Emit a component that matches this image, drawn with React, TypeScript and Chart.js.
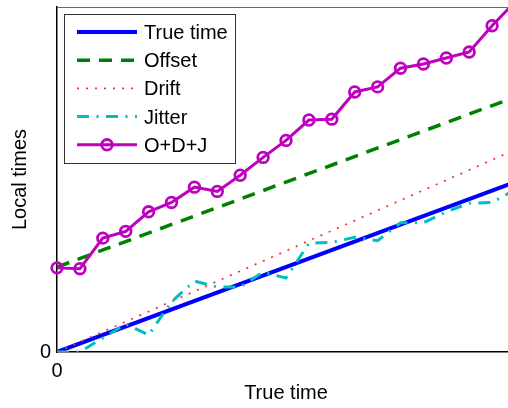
import React, { useEffect, useRef } from "react";
import { Chart, registerables } from "chart.js";

Chart.register(...registerables);

// ---- data ----
const sampleIndex = [0, 1, 2, 3, 4, 5, 6, 7, 8, 9, 10, 11, 12, 13, 14, 15, 16, 17, 18, 19, 20];
const lineEnds = [0, 20];
const trueTime = [0, 20];
const offsetTime = [10, 30];
const driftTime = [0, 23.8];
const jitterTime = [0, 0, 1.65, 3.3, 2.0, 5.9, 8.35, 7.65, 7.65, 9.4, 8.7, 12.8, 12.9, 13.5, 13.1, 15.2, 15.2, 16.5, 17.5, 17.6, 19.1];
const combinedTime = [9.9, 9.8, 13.4, 14.2, 16.5, 17.6, 19.4, 18.9, 20.8, 22.9, 24.9, 27.3, 27.4, 30.6, 31.2, 33.4, 33.9, 34.6, 35.3, 38.4, 41.2];
const seriesLabels = ["True time", "Offset", "Drift", "Jitter", "O+D+J"];
const xTitle = "True time";
const yTitle = "Local times";
const xTickValues = [0];
const yTickValues = [0];
const X_MAX = 20;
const Y_MAX = 40.6;

const FONT_FAMILY = '"Liberation Sans", Arial, sans-serif';
const FONT_SIZE = 20;

const toPoints = (xs: number[], ys: number[]) => xs.map((x, i) => ({ x, y: ys[i] }));

const framePlugin = {
  id: "frameAndLegend",
  afterDraw(chart: any) {
    const { ctx, chartArea } = chart;
    ctx.save();
    // top frame line
    ctx.strokeStyle = "#666";
    ctx.lineWidth = 1;
    ctx.beginPath();
    ctx.moveTo(chartArea.left, chartArea.top + 0.5);
    ctx.lineTo(chartArea.right, chartArea.top + 0.5);
    ctx.stroke();

    // legend
    const bx = chartArea.left + 7.5;
    const by = chartArea.top + 7.5;
    const bw = 171;
    const bh = 149;
    ctx.fillStyle = "#fff";
    ctx.fillRect(bx, by, bw, bh);
    ctx.strokeStyle = "#333";
    ctx.lineWidth = 1;
    ctx.strokeRect(bx, by, bw, bh);

    const datasets = chart.data.datasets;
    const sampleX0 = chartArea.left + 20;
    const sampleX1 = chartArea.left + 80;
    const textX = chartArea.left + 87;
    datasets.forEach((ds: any, i: number) => {
      const rowY = chartArea.top + 25 + i * 28.2;
      ctx.save();
      ctx.strokeStyle = ds.borderColor;
      ctx.lineWidth = ds.borderWidth;
      ctx.setLineDash(ds.borderDash || []);
      ctx.beginPath();
      ctx.moveTo(sampleX0, rowY);
      ctx.lineTo(sampleX1, rowY);
      ctx.stroke();
      ctx.setLineDash([]);
      if (ds.pointRadius && ds.pointRadius > 0) {
        ctx.lineWidth = ds.pointBorderWidth;
        ctx.strokeStyle = ds.pointBorderColor;
        ctx.beginPath();
        ctx.arc((sampleX0 + sampleX1) / 2, rowY, ds.pointRadius, 0, Math.PI * 2);
        ctx.stroke();
      }
      ctx.restore();
      ctx.fillStyle = "#000";
      ctx.font = `${FONT_SIZE}px ${FONT_FAMILY}`;
      ctx.textBaseline = "alphabetic";
      ctx.textAlign = "left";
      ctx.fillText(ds.label, textX, rowY + 7);
    });
    ctx.restore();
  },
};

export default function App() {
  const canvasRef = useRef<HTMLCanvasElement | null>(null);

  useEffect(() => {
    if (!canvasRef.current) return;
    const font = { family: FONT_FAMILY, size: FONT_SIZE };
    const chart = new Chart(canvasRef.current, {
      type: "line",
      data: {
        datasets: [
          {
            label: seriesLabels[0],
            data: toPoints(lineEnds, trueTime),
            borderColor: "#0000ff",
            borderWidth: 4,
            pointRadius: 0,
            order: 5,
          },
          {
            label: seriesLabels[1],
            data: toPoints(lineEnds, offsetTime),
            borderColor: "#008000",
            borderWidth: 3.5,
            borderDash: [13, 9],
            pointRadius: 0,
            order: 4,
          },
          {
            label: seriesLabels[2],
            data: toPoints(lineEnds, driftTime),
            borderColor: "#ff3030",
            borderWidth: 1.8,
            borderDash: [2, 7],
            pointRadius: 0,
            order: 3,
          },
          {
            label: seriesLabels[3],
            data: toPoints(sampleIndex, jitterTime),
            borderColor: "#00bfbf",
            borderWidth: 3,
            borderDash: [12, 7.5, 2, 7.5],
            pointRadius: 0,
            order: 2,
          },
          {
            label: seriesLabels[4],
            data: toPoints(sampleIndex, combinedTime),
            borderColor: "#bf00bf",
            borderWidth: 3,
            pointRadius: 5.3,
            pointBorderWidth: 2.8,
            pointBorderColor: "#bf00bf",
            pointBackgroundColor: "rgba(0,0,0,0)",
            clip: { left: 10, top: 0, right: 0, bottom: 10 },
            order: 1,
          },
        ] as any,
      },
      options: {
        responsive: false,
        animation: false,
        devicePixelRatio: 1,
        layout: { autoPadding: false, padding: { top: 7, left: 0, right: 0, bottom: 0 } },
        elements: { line: { tension: 0 } },
        plugins: {
          legend: { display: false },
          tooltip: { enabled: false },
        },
        scales: {
          x: {
            type: "linear",
            min: 0,
            max: X_MAX,
            grid: { display: false, drawTicks: false },
            border: { display: true, color: "#000", width: 1.5 },
            afterBuildTicks: (s: any) => {
              s.ticks = xTickValues.map((v) => ({ value: v }));
            },
            afterFit: (s: any) => {
              s.height = 56;
              s.paddingLeft = 0;
              s.paddingRight = 0;
              s.paddingTop = 0;
              s.paddingBottom = 0;
            },
            ticks: { color: "#000", font, padding: 7.6, maxRotation: 0, autoSkip: false },
            title: {
              display: true,
              text: xTitle,
              color: "#000",
              font,
              padding: { top: 0, bottom: 2.5 },
            },
          },
          y: {
            type: "linear",
            min: 0,
            max: Y_MAX,
            grid: { display: false, drawTicks: false },
            border: { display: true, color: "#000", width: 1.5 },
            afterBuildTicks: (s: any) => {
              s.ticks = yTickValues.map((v) => ({ value: v }));
            },
            afterFit: (s: any) => {
              s.width = 57;
              s.paddingLeft = 0;
              s.paddingRight = 0;
              s.paddingTop = 0;
              s.paddingBottom = 0;
            },
            ticks: { color: "#000", font, padding: 6, autoSkip: false },
            title: {
              display: true,
              text: yTitle,
              color: "#000",
              font,
              padding: { top: 8, bottom: 0 },
            },
          },
        },
      } as any,
      plugins: [framePlugin],
    });
    return () => chart.destroy();
  }, []);

  return (
    <div
      style={{
        position: "fixed",
        left: 0,
        top: 0,
        width: 508,
        height: 408,
        overflow: "hidden",
        background: "#fff",
      }}
    >
      <canvas ref={canvasRef} width={515} height={408} style={{ display: "block", width: 515, height: 408 }} />
    </div>
  );
}
